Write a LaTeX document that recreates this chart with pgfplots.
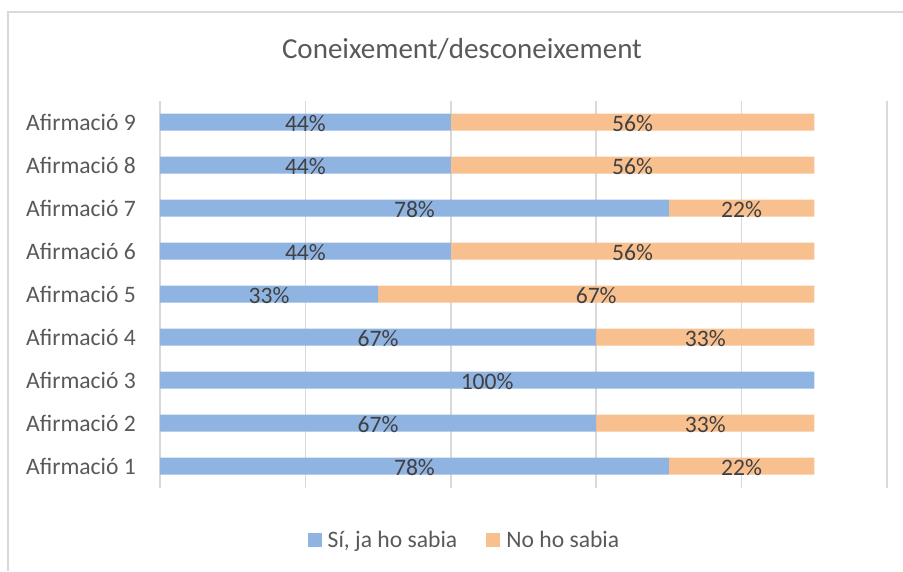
\documentclass[border=0pt]{standalone}
\usepackage{fontspec}
\setmainfont{Carlito}
\usepackage{pgfplots}
\pgfplotsset{compat=1.18}
\usepackage{pgfplotstable}
\definecolor{siblue}{HTML}{8FB4E2}
\definecolor{noorange}{HTML}{F9C08F}
\definecolor{gridgray}{HTML}{D9D9D9}
\definecolor{txtgray}{HTML}{595959}
\definecolor{lblgray}{HTML}{404040}

% counts of 9 respondents
\pgfplotstableread{
y yes no
1 7 2
2 6 3
3 9 0
4 6 3
5 3 6
6 4 5
7 7 2
8 4 5
9 4 5
}\counts

% centres of each segment and their percentage labels
\pgfplotstableread{
x y label
3.5 1 78
8 1 22
3 2 67
7.5 2 33
4.5 3 100
3 4 67
7.5 4 33
1.5 5 33
6 5 67
2 6 44
6.5 6 56
3.5 7 78
8 7 22
2 8 44
6.5 8 56
2 9 44
6.5 9 56
}\labels

\newcommand{\lblfont}{\fontsize{23.6}{28}\selectfont}

\begin{document}
\begin{tikzpicture}
\path[use as bounding box] (0,0) rectangle (903pt,571pt);
\draw[gridgray, line width=1.2pt] (8pt,0) -- (8pt,559pt) -- (903pt,559pt);

\begin{axis}[
  at={(160pt,83.5pt)}, anchor=south west,
  scale only axis, width=727pt, height=387pt,
  xbar stacked, bar width=17pt,
  xmin=0, xmax=10, ymin=0.5, ymax=9.5,
  xtick={0,2,4,6,8,10}, xticklabels={},
  xmajorgrids, grid style={gridgray, line width=1.5pt},
  ytick={1,2,3,4,5,6,7,8,9},
  yticklabels={Afirmació 1,Afirmació 2,Afirmació 3,Afirmació 4,Afirmació 5,Afirmació 6,Afirmació 7,Afirmació 8,Afirmació 9},
  yticklabel style={font=\lblfont, text=txtgray, inner sep=0pt, xshift=-24pt},
  major tick length=0pt,
  axis line style={draw=none},
  title={Coneixement/desconeixement},
  title style={at={(0.4154,1.1176)}, anchor=center, font=\fontsize{29}{34}\selectfont, text=txtgray},
  legend style={at={(0.4195,-0.1357)}, anchor=center, draw=none, fill=none,
    font=\lblfont, text=txtgray, legend columns=-1,
    nodes={inner xsep=3pt, inner ysep=0pt},
    /tikz/every odd column/.append style={column sep=3pt},
    /tikz/every even column/.append style={column sep=26pt}, inner sep=0pt},
  legend image code/.code={\fill[#1] (0pt,-7pt) rectangle (14pt,7pt);},
]
\addplot[fill=siblue, draw=none] table[x=yes, y=y] {\counts};
\addplot[fill=noorange, draw=none] table[x=no, y=y] {\counts};
\legend{{Sí, ja ho sabia}, {No ho sabia}}
\end{axis}

\begin{axis}[
  at={(160pt,83.5pt)}, anchor=south west,
  scale only axis, width=727pt, height=387pt,
  xmin=0, xmax=10, ymin=0.5, ymax=9.5,
  hide axis,
]
\addplot[draw=none, mark=none, nodes near coords={\pgfplotspointmeta\%},
  point meta=explicit symbolic, nodes near coords align=center,
  every node near coord/.append style={font=\lblfont, text=lblgray, yshift=-2pt}]
  table[x=x, y=y, meta=label] {\labels};
\end{axis}
\end{tikzpicture}
\end{document}
